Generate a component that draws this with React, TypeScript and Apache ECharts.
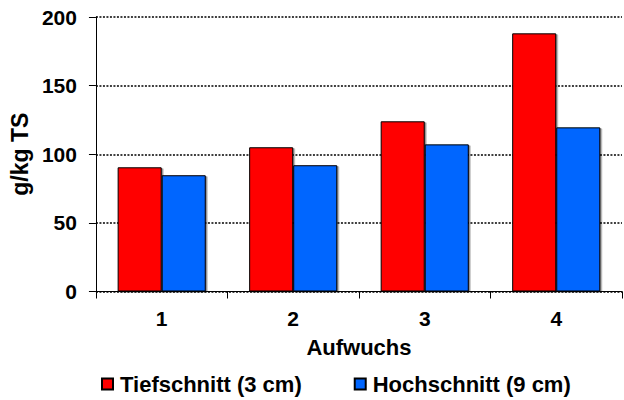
import React, { useEffect, useRef } from "react";
import * as echarts from "echarts";

const categories = ["1", "2", "3", "4"];
const tiefschnitt = [90.5, 105.1, 124.0, 188.1];
const hochschnitt = [84.7, 92.0, 107.2, 119.6];
const seriesNames = ["Tiefschnitt (3 cm)", "Hochschnitt (9 cm)"];
const yTicks = { min: 0, max: 200, interval: 50 };

const FONT = "'Liberation Sans', Arial, sans-serif";

export default function App() {
  const ref = useRef<HTMLDivElement>(null);
  useEffect(() => {
    if (!ref.current) return;
    const chart = echarts.init(ref.current, null, { renderer: "svg" });
    const barStyle = (color: string) => ({
      color,
      borderColor: "#000",
      borderWidth: 1,
      shadowColor: "rgba(0,0,0,0.45)",
      shadowOffsetX: 1.5,
      shadowOffsetY: 1,
      shadowBlur: 0,
    });
    chart.setOption({
      animation: false,
      backgroundColor: "#fff",
      textStyle: { fontFamily: FONT },
      grid: { left: 95.5, right: 2, top: 17, bottom: 108.5, containLabel: false },
      legend: {
        data: seriesNames,
        bottom: 0,
        left: 96,
        itemWidth: 11,
        itemHeight: 11,
        itemGap: 52,
        icon: "rect",
        textStyle: { fontFamily: FONT, fontWeight: "bold", fontSize: 22, color: "#000", padding: [0, 0, 0, 2] },
      },
      xAxis: {
        type: "category",
        data: categories,
        name: "Aufwuchs",
        nameLocation: "middle",
        nameGap: 45,
        nameTextStyle: { fontFamily: FONT, fontWeight: "bold", fontSize: 22, color: "#000" },
        axisLine: { lineStyle: { color: "#000", width: 1 } },
        axisTick: { show: true, length: 7, lineStyle: { color: "#000" }, alignWithLabel: false },
        axisLabel: { fontFamily: FONT, fontWeight: "bold", fontSize: 21, color: "#000", margin: 16 },
        splitLine: { show: false },
      },
      yAxis: {
        type: "value",
        min: yTicks.min,
        max: yTicks.max,
        interval: yTicks.interval,
        name: "g/kg TS",
        nameLocation: "middle",
        nameGap: 64,
        nameTextStyle: { fontFamily: FONT, fontWeight: "bold", fontSize: 23, color: "#000" },
        axisLine: { show: true, lineStyle: { color: "#000", width: 1 } },
        axisTick: { show: true, length: 7, lineStyle: { color: "#000" } },
        axisLabel: { fontFamily: FONT, fontWeight: "bold", fontSize: 21, color: "#000", margin: 19 },
        splitLine: { show: true, lineStyle: { color: "#000", width: 1.5, type: [2, 1.5] } },
      },
      series: [
        {
          name: seriesNames[0],
          type: "bar",
          data: tiefschnitt,
          barGap: "0%",
          barCategoryGap: "33%",
          itemStyle: barStyle("#FF0000"),
        },
        {
          name: seriesNames[1],
          type: "bar",
          data: hochschnitt,
          barGap: "0%",
          barCategoryGap: "33%",
          itemStyle: barStyle("#0066FF"),
        },
      ],
    });
    return () => chart.dispose();
  }, []);
  return (
    <div
      ref={ref}
      style={{ position: "fixed", left: 0, top: 0, width: 624, height: 400 }}
    />
  );
}
